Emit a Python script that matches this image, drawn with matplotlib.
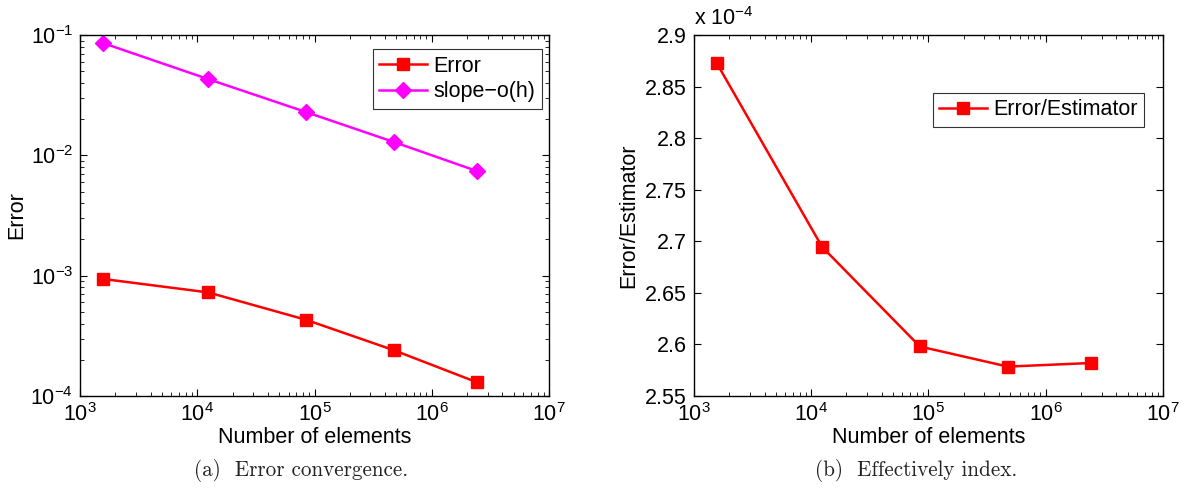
import numpy as np
import matplotlib
matplotlib.use("Agg")
import matplotlib.pyplot as plt
from matplotlib.ticker import LogLocator, LogFormatterSciNotation, MultipleLocator, FormatStrFormatter

# ================================
# data
# ================================
n_elements = [1560, 12400, 84500, 476000, 2430000]
error = [9.4e-4, 7.26e-4, 4.3e-4, 2.4e-4, 1.3e-4]
slope_h = [0.0859, 0.0430, 0.0229, 0.0129, 0.0074]
ratio = [2.873e-4, 2.6945e-4, 2.598e-4, 2.5785e-4, 2.582e-4]

plt.rcParams['font.family'] = ['Liberation Sans', 'DejaVu Sans']
plt.rcParams['mathtext.fontset'] = 'custom'
plt.rcParams['mathtext.rm'] = 'Liberation Sans'
plt.rcParams['mathtext.it'] = 'Liberation Sans:italic'
plt.rcParams['mathtext.bf'] = 'Liberation Sans:bold'
plt.rcParams['axes.linewidth'] = 1.0
plt.rcParams['xtick.direction'] = 'in'
plt.rcParams['ytick.direction'] = 'in'
plt.rcParams['xtick.top'] = True
plt.rcParams['ytick.right'] = True

fig = plt.figure(figsize=(11.84, 4.96), dpi=100)
ax1 = fig.add_axes([0.0676, 0.2016, 0.3961, 0.7278])
ax2 = fig.add_axes([0.5861, 0.2016, 0.3961, 0.7278])

fs = 15.5


def style_log_x(ax):
    ax.set_xscale('log')
    ax.set_xlim(1e3, 1e7)
    ax.xaxis.set_major_locator(LogLocator(base=10, numticks=10))
    ax.xaxis.set_minor_locator(LogLocator(base=10, subs=np.arange(2, 10), numticks=20))
    ax.xaxis.set_major_formatter(LogFormatterSciNotation())
    ax.tick_params(which='major', length=5, width=0.8, labelsize=fs, pad=5)
    ax.tick_params(which='minor', length=3, width=0.6)
    ax.set_xlabel('Number of elements', fontsize=fs, labelpad=1)


# ---- (a) error convergence
ax1.plot(n_elements, error, '-s', color='red', lw=1.8, ms=8, label='Error')
ax1.plot(n_elements, slope_h, '-D', color='magenta', lw=1.8, ms=8.5, label='slope\u2212o(h)')
style_log_x(ax1)
ax1.set_yscale('log')
ax1.set_ylim(1e-4, 1e-1)
ax1.yaxis.set_major_locator(LogLocator(base=10, numticks=10))
ax1.yaxis.set_minor_locator(LogLocator(base=10, subs=np.arange(2, 10), numticks=20))
ax1.set_ylabel('Error', fontsize=fs, labelpad=2)
leg1 = ax1.legend(loc='upper right', bbox_to_anchor=(0.984, 0.96), fontsize=fs, frameon=True,
                  fancybox=False, edgecolor='black', handlelength=2.2, borderpad=0.3,
                  labelspacing=0.2, handletextpad=0.3, borderaxespad=0.0)
leg1.get_frame().set_linewidth(0.8)

# ---- (b) effectively index
ax2.plot(n_elements, np.array(ratio) * 1e4, '-s', color='red', lw=1.8, ms=8, label='Error/Estimator')
style_log_x(ax2)
ax2.set_ylim(2.55, 2.9)
ax2.yaxis.set_major_locator(MultipleLocator(0.05))
ax2.yaxis.set_major_formatter(FormatStrFormatter('%g'))
ax2.tick_params(axis='y', which='major', length=5, labelsize=fs)
ax2.set_ylabel('Error/Estimator', fontsize=fs, labelpad=4)
ax2.text(0.0, 1.015, r'x 10$^{\mathregular{-4}}$', transform=ax2.transAxes, fontsize=fs,
         ha='left', va='bottom')
leg2 = ax2.legend(loc='upper right', bbox_to_anchor=(0.96, 0.84), fontsize=fs, frameon=True,
                  fancybox=False, edgecolor='black', handlelength=2.2, borderpad=0.3,
                  handletextpad=0.3, borderaxespad=0.0)
leg2.get_frame().set_linewidth(0.8)

# captions
fig.text(301 / 1184, 1 - 470 / 496, '(a)  Error convergence.', fontsize=15.2,
         family=['cmr10', 'DejaVu Serif'], ha='center', va='center', color='#222222')
fig.text(916 / 1184, 1 - 470 / 496, '(b)  Effectively index.', fontsize=15.2,
         family=['cmr10', 'DejaVu Serif'], ha='center', va='center', color='#222222')

fig.savefig('out.png', dpi=100)
